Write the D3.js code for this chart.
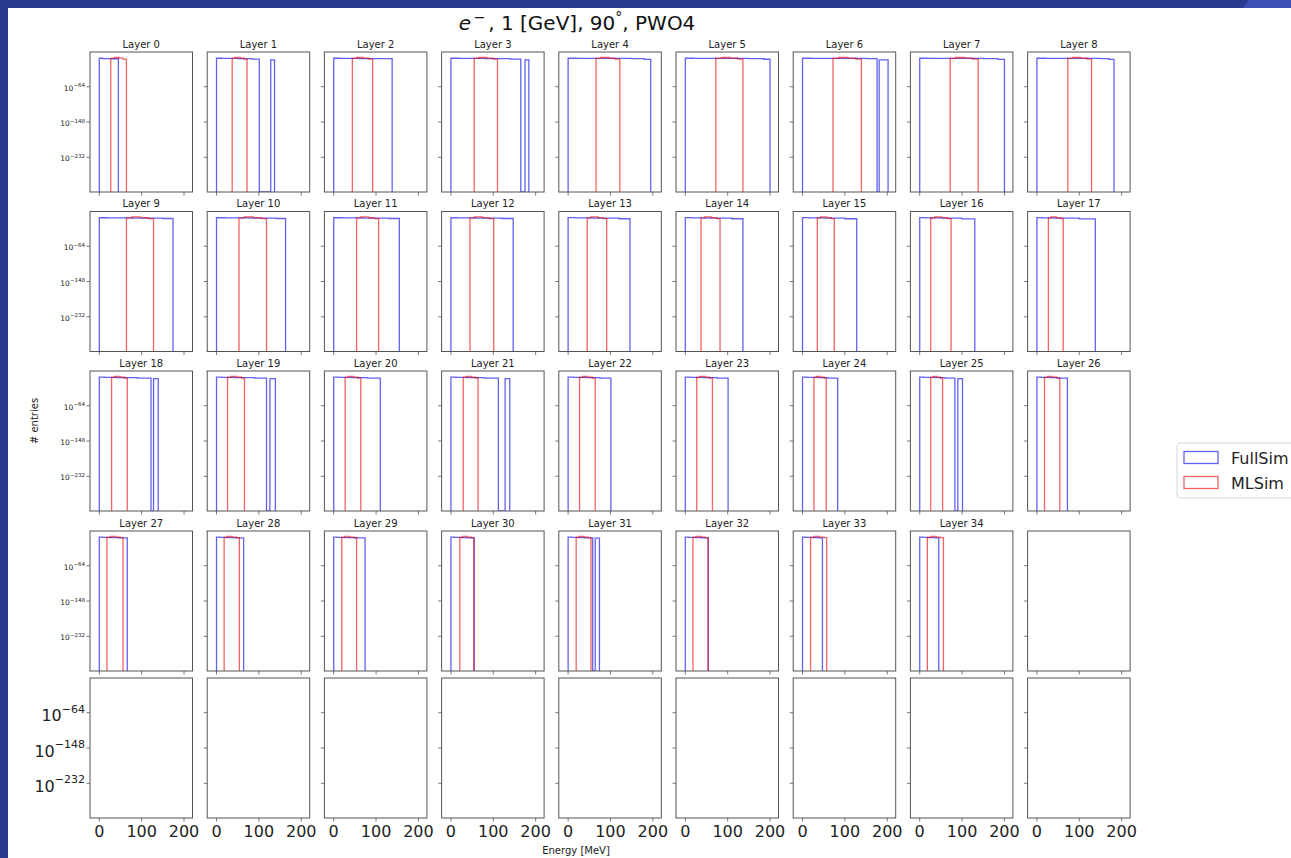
<!DOCTYPE html>
<html><head><meta charset="utf-8">
<script src="https://cdn.jsdelivr.net/npm/d3@7"></script>
<style>body{margin:0;background:#fff}svg{display:block}text{font-family:"DejaVu Sans",sans-serif}</style>
</head><body><svg id="c" width="1291" height="858"></svg>
<script>
// ---------------- data ----------------
const layerNames = d3.range(35).map(i => "Layer " + i);
const xTicks = [0, 100, 200];
const yTickExps = [-64, -148, -232];
const seriesNames = ["FullSim", "MLSim"];

// FullSim step histograms: bin edges [MeV] and counts (0 = empty bin)
const fullEdges = [
  [0,8,30,45],[0,12,50,85,101,128,137],[0,15,60,110,138],[0,20,80,140,165,175,184],
  [0,20,90,150,180,195],[0,20,90,150,185,200],[0,20,90,150,176,181,202],[0,20,90,150,185,200],
  [0,20,90,150,170,182],[0,20,80,150,174],[0,20,80,140,163],[0,20,70,130,155],
  [0,15,60,120,147],[0,15,60,120,146],[0,15,50,110,136],[0,15,50,100,128],
  [0,12,45,100,130],[0,12,40,100,138],[0,12,40,90,122,128,139],[0,12,40,90,118,126,139],
  [0,12,40,80,110],[0,12,40,80,112,128,139],[0,12,40,75,101],[0,12,40,75,101],
  [0,10,35,60,83],[0,10,35,60,83,90,101],[0,10,30,50,72],[0,8,25,45,66],
  [0,8,25,45,64],[0,8,25,50,74],[0,8,25,40,55],[0,8,25,40,58,64,74],
  [0,8,25,40,54],[0,8,25,35,47],[0,8,20,35,45]
];
const fullCounts = [
  [5e3,8e2,3e2],[5e3,3e3,8e2,5e1,0,1e0],[5e3,3e3,1e3,8e2],[5e3,3e3,1e3,5e1,0,1e0],
  [5e3,3e3,2e3,5e2,1e1],[5e3,3e3,2e3,5e2,2e1],[5e3,3e3,2e3,4e2,0,1e0],[5e3,3e3,2e3,6e2,1e1],
  [5e3,3e3,2e3,5e2,1e1],[5e3,3e3,1e3,1e2],[5e3,3e3,1e3,1e2],[5e3,3e3,1e3,1e2],
  [5e3,3e3,1e3,1e2],[8e3,3e3,4e2,2e1],[8e3,3e3,4e2,2e1],[8e3,3e3,4e2,2e1],
  [8e3,3e3,4e2,1e1],[8e3,3e3,4e2,1e1],[8e3,3e3,4e2,5e1,0,3e0],[8e3,3e3,4e2,5e1,0,3e0],
  [8e3,3e3,4e2,5e1],[8e3,3e3,4e2,5e1,0,3e0],[8e3,3e3,4e2,5e1],[8e3,3e3,4e2,5e1],
  [8e3,3e3,4e2,5e1],[8e3,3e3,4e2,5e1,0,3e0],[8e3,3e3,4e2,5e1],[8e3,3e3,1e3,2e2],
  [8e3,3e3,1e3,2e2],[8e3,3e3,1e3,2e2],[8e3,3e3,1e3,2e2],[8e3,3e3,1e3,2e2,0,5e1],
  [8e3,3e3,1e3,2e2],[8e3,3e3,1e3,2e2],[8e3,3e3,1e3,2e2]
];
// MLSim step histograms
const mlEdges = [
  [27,35,47,56,64],[37,44,56,65,72],[44,54,70,83,92],[55,66,85,100,110],
  [66,77,96,110,122],[72,85,106,124,136],[72,85,107,126,139],[72,85,106,125,138],
  [73,84,103,118,129],[64,77,98,116,128],[53,66,87,106,118],[54,64,82,96,106],
  [45,56,75,90,101],[45,54,70,83,91],[37,46,61,74,82],[35,43,57,68,75],
  [26,36,52,65,74],[27,34,46,56,62],[29,36,49,59,66],[26,34,48,59,66],
  [27,34,47,57,64],[29,36,48,58,64],[27,34,47,57,64],[27,34,47,57,64],
  [27,33,43,51,56],[26,32,41,49,54],[18,25,37,47,54],[18,26,39,49,56],
  [18,25,37,47,54],[19,26,38,48,54],[21,28,39,48,54],[19,26,38,48,54],
  [18,25,37,47,54],[19,27,40,51,57],[18,26,39,49,56]
];
const mlCounts = [
  [2e3,3e5,8e3,5e1],[2e3,3e5,8e3,5e1],[2e3,3e5,8e3,5e1],[2e3,3e5,8e3,5e1],
  [2e3,3e5,8e3,5e1],[2e3,3e5,8e3,5e1],[2e3,3e5,8e3,5e1],[2e3,3e5,8e3,5e1],
  [2e3,3e5,8e3,5e1],[3e3,5e5,8e3,5e1],[3e3,5e5,8e3,5e1],[3e3,5e5,8e3,5e1],
  [3e3,5e5,8e3,5e1],[3e3,5e5,8e3,5e1],[3e3,5e5,8e3,5e1],[3e3,5e5,8e3,5e1],
  [3e3,5e5,8e3,5e1],[3e3,5e5,8e3,5e1],[3e3,5e5,8e3,5e1],[3e3,5e5,8e3,5e1],
  [3e3,5e5,8e3,5e1],[3e3,5e5,8e3,5e1],[3e3,5e5,8e3,5e1],[3e3,5e5,8e3,5e1],
  [3e3,5e5,8e3,5e1],[3e3,5e5,8e3,5e1],[3e3,5e5,8e3,5e1],[3e3,5e5,8e3,1e3],
  [3e3,5e5,8e3,1e3],[3e3,5e5,8e3,1e3],[3e3,5e5,8e3,1e3],[3e3,5e5,8e3,1e3],
  [3e3,5e5,8e3,1e3],[3e3,5e5,8e3,1e3],[3e3,5e5,8e3,1e3]
];

// ---------------- layout ----------------
const svg = d3.select("#c");
const W = 1291, H = 858;
const frame = "#293a8e";
svg.append("rect").attr("width", W).attr("height", H).attr("fill", frame);
svg.append("rect").attr("x", 8).attr("y", 8).attr("width", W - 8).attr("height", H - 8).attr("fill", "#fff");
svg.append("polygon").attr("points", "1243,8 1249,0 1291,0 1291,8").attr("fill", "#3b50b2");

const nCols = 9, nRows = 5;
const colLeft = c => 90 + c * 117.2;
const rowTops = [52, 211.5, 371, 531, 678];
const pw = 102.5, ph = 140;
const blue = "rgba(0,0,235,0.62)", red = "rgba(240,0,0,0.62)";
const axisCol = "#555";

const x = d3.scaleLinear().domain([-22, 220]).range([0, pw]);
const y = d3.scaleLog().domain([Math.pow(10, -314.6), Math.pow(10, 18.6)]).range([ph, 0]);
const yv = v => v > 0 ? y(v) : ph;

function stepPath(edges, counts) {
  const pts = [[x(edges[0]), ph]];
  counts.forEach((c, i) => {
    pts.push([x(edges[i]), yv(c)]);
    pts.push([x(edges[i + 1]), yv(c)]);
  });
  pts.push([x(edges[edges.length - 1]), ph]);
  return d3.line()(pts);
}

const defs = svg.append("defs");
defs.append("clipPath").attr("id", "pclip").append("rect").attr("width", pw).attr("height", ph);

function supLabel(g, base, sup, size, supSize, rise) {
  const t = g.append("text").attr("text-anchor", "end").attr("fill", "#222");
  t.append("tspan").attr("font-size", size).text(base);
  t.append("tspan").attr("font-size", supSize).attr("dy", -rise).text(sup);
  return t;
}

for (let r = 0; r < nRows; r++) {
  for (let c = 0; c < nCols; c++) {
    const idx = r * nCols + c;
    const g = svg.append("g").attr("transform", `translate(${colLeft(c)},${rowTops[r]})`);
    const big = r === nRows - 1;
    if (idx < layerNames.length) {
      g.append("text").attr("x", pw / 2).attr("y", -4.5).attr("text-anchor", "middle")
        .attr("font-size", 10).attr("fill", "#222").text(layerNames[idx]);
      const pg = g.append("g").attr("clip-path", "url(#pclip)");
      pg.append("path").attr("d", stepPath(fullEdges[idx], fullCounts[idx]))
        .attr("fill", "none").attr("stroke", blue).attr("stroke-width", 1.3);
      pg.append("path").attr("d", stepPath(mlEdges[idx], mlCounts[idx]))
        .attr("fill", "none").attr("stroke", red).attr("stroke-width", 1.3);
    }
    g.append("rect").attr("width", pw).attr("height", ph).attr("fill", "none")
      .attr("stroke", axisCol).attr("stroke-width", 1);
    // x ticks
    xTicks.forEach(t => {
      g.append("line").attr("x1", x(t)).attr("x2", x(t)).attr("y1", ph).attr("y2", ph + 3.5)
        .attr("stroke", axisCol).attr("stroke-width", 0.8);
      if (big) {
        g.append("text").attr("x", x(t)).attr("y", ph + 19).attr("text-anchor", "middle")
          .attr("font-size", 16).attr("fill", "#222").text(t);
      }
    });
    // y ticks
    yTickExps.forEach(e => {
      const yy = y(Math.pow(10, e));
      g.append("line").attr("x1", -3.5).attr("x2", 0).attr("y1", yy).attr("y2", yy)
        .attr("stroke", axisCol).attr("stroke-width", 0.8);
      if (c === 0) {
        const lg = g.append("g").attr("transform", `translate(-5,${yy})`);
        if (big) {
          supLabel(lg, "10", "\u2212" + (-e), 16, 11, 8.5).attr("y", 8.5);
        } else {
          supLabel(lg, "10", "\u2212" + (-e), 7.5, 5.5, 3.5).attr("y", 4);
        }
      }
    });
  }
}

// title
const title = svg.append("text").attr("x", 577).attr("y", 30).attr("text-anchor", "middle")
  .attr("font-size", 20).attr("fill", "#111");
title.append("tspan").attr("font-style", "italic").text("e");
title.append("tspan").attr("font-size", 14).attr("dy", -8).text("\u2009\u2212\u2009");
title.append("tspan").attr("dy", 8).text(", 1 [GeV], 90");
title.append("tspan").attr("font-size", 14).attr("dy", -8).text("\u00b0");
title.append("tspan").attr("dy", 8).text(", PWO4");

// axis labels
svg.append("text").attr("x", 576).attr("y", 854).attr("text-anchor", "middle")
  .attr("font-size", 10).attr("fill", "#222").text("Energy [MeV]");
svg.append("text").attr("transform", "translate(38,421) rotate(-90)").attr("text-anchor", "middle")
  .attr("font-size", 10).attr("fill", "#222").text("# entries");

// legend
const lg = svg.append("g").attr("transform", "translate(1177,443)");
lg.append("rect").attr("width", 140).attr("height", 55).attr("rx", 3)
  .attr("fill", "#fff").attr("stroke", "#d6d6d6");
[blue, red].forEach((col, i) => {
  lg.append("rect").attr("x", 7).attr("y", 8.5 + i * 25).attr("width", 34).attr("height", 12)
    .attr("fill", "none").attr("stroke", col).attr("stroke-width", 1.3);
  lg.append("text").attr("x", 54).attr("y", 20.5 + i * 25).attr("font-size", 16)
    .attr("fill", "#222").text(seriesNames[i]);
});
</script></body></html>
